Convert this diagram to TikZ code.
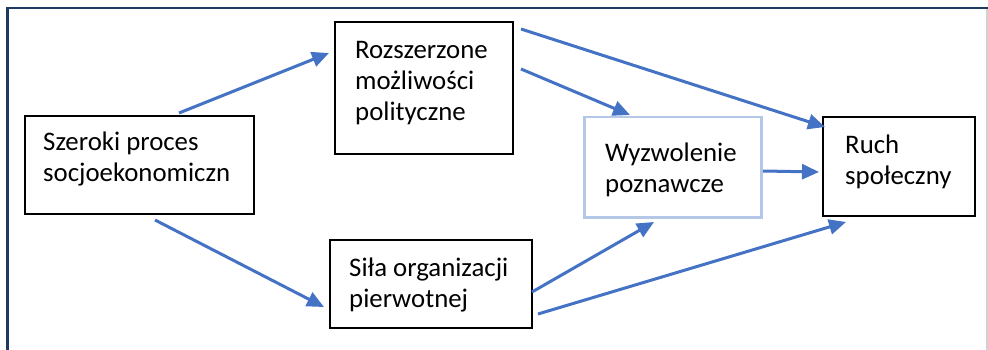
\documentclass[tikz,border=0pt]{standalone}
\usepackage{fontspec}
\setmainfont{Carlito}
\usetikzlibrary{arrows.meta}
\definecolor{arr}{HTML}{4472C4}
\definecolor{lbl}{HTML}{B4C7E7}
\definecolor{navy}{HTML}{1F3864}
\begin{document}
\begin{tikzpicture}[x=1pt,y=-1pt,
  box/.style={draw=black,line width=2pt,inner sep=0pt,anchor=north west},
  lbox/.style={draw=lbl,line width=2.5pt,inner sep=0pt,anchor=north west},
  txt/.style={anchor=base west,align=left,inner sep=0pt,font=\fontsize{26.8}{31}\selectfont},
  conn/.style={draw=arr,line width=3pt,-{Triangle[length=17pt,width=15pt]}}]
\useasboundingbox (0,0) rectangle (988,350);
% frame
\draw[navy,line width=2.7pt] (7.3,350) -- (7.3,8) -- (988,8);
\draw[black!18,line width=1.5pt] (987,9) -- (987,350);
% boxes
\node[box,minimum width=229pt,minimum height=98pt] (A) at (24,115) {};
\node[box,minimum width=178pt,minimum height=132pt] (B) at (334,21) {};
\node[lbox,minimum width=177pt,minimum height=100pt] (C) at (583,116) {};
\node[box,minimum width=152pt,minimum height=99pt] (D) at (822,116) {};
\node[box,minimum width=202pt,minimum height=88pt] (E) at (329,239) {};
% texts (anchored at the baseline of their last line)
\node[txt] (At) at (43,181) {Szeroki proces\\socjoekonomiczn};
\node[txt] (Bt) at (355,121) {Rozszerzone\\możliwości\\polityczne};
\node[txt] (Ct) at (605,192) {Wyzwolenie\\poznawcze};
\node[txt] (Dt) at (845,184) {Ruch\\społeczny};
\node[txt] (Et) at (349,307) {Siła organizacji\\pierwotnej};
% connector ends
\coordinate (a1s) at (179,113); \coordinate (a1e) at (329,53);
\coordinate (a2s) at (155,220); \coordinate (a2e) at (324,307);
\coordinate (a3s) at (521,29);  \coordinate (a3e) at (825,127);
\coordinate (a4s) at (521,69);  \coordinate (a4e) at (630,115);
\coordinate (a5s) at (763,171); \coordinate (a5e) at (819,172);
\coordinate (a6s) at (532,292); \coordinate (a6e) at (654,222);
\coordinate (a7s) at (538,314); \coordinate (a7e) at (846,222);
\draw[conn] (a1s) -- (a1e);
\draw[conn] (a2s) -- (a2e);
\draw[conn] (a3s) -- (a3e);
\draw[conn] (a4s) -- (a4e);
\draw[conn] (a5s) -- (a5e);
\draw[conn] (a6s) -- (a6e);
\draw[conn] (a7s) -- (a7e);
\end{tikzpicture}
\end{document}
